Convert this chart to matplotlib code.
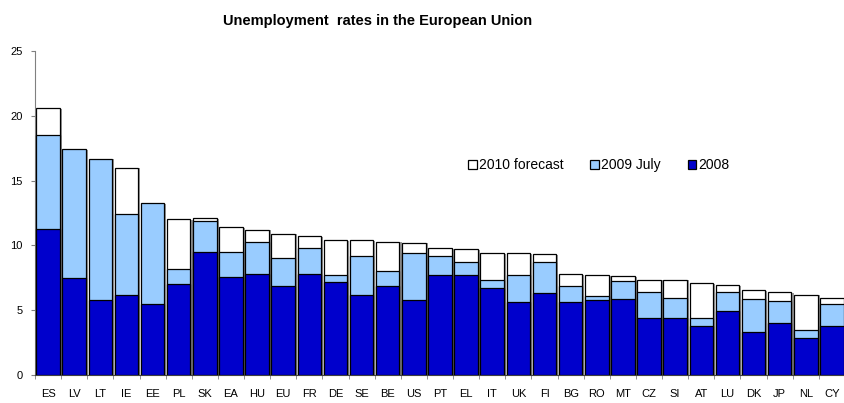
import numpy as np
import matplotlib.pyplot as plt

plt.rcParams['font.family'] = ['Liberation Sans', 'DejaVu Sans']

countries = ["ES", "LV", "LT", "IE", "EE", "PL", "SK", "EA", "HU", "EU", "FR", "DE", "SE", "BE", "US",
             "PT", "EL", "IT", "UK", "FI", "BG", "RO", "MT", "CZ", "SI", "AT", "LU", "DK", "JP", "NL", "CY"]
forecast_2010 = [20.6, np.nan, np.nan, 16.0, np.nan, 12.0, 12.1, 11.4, 11.2, 10.9, 10.7, 10.4, 10.4, 10.3, 10.2,
                 9.8, 9.7, 9.4, 9.4, 9.3, 7.8, 7.7, 7.65, 7.35, 7.35, 7.1, 6.95, 6.55, 6.4, 6.2, 5.95]
july_2009 = [18.5, 17.4, 16.7, 12.45, 13.25, 8.2, 11.9, 9.5, 10.3, 9.0, 9.8, 7.7, 9.2, 8.0, 9.4,
             9.2, 8.75, 7.35, 7.7, 8.7, 6.9, 6.1, 7.25, 6.4, 5.95, 4.4, 6.4, 5.9, 5.7, 3.45, 5.5]
year_2008 = [11.3, 7.5, 5.8, 6.2, 5.45, 7.0, 9.5, 7.55, 7.8, 6.9, 7.8, 7.2, 6.15, 6.9, 5.75,
             7.7, 7.7, 6.75, 5.6, 6.35, 5.6, 5.8, 5.9, 4.4, 4.4, 3.8, 4.9, 3.3, 4.0, 2.85, 3.8]

x = np.arange(len(countries))
w = 0.9
tops = np.nanmax(np.vstack([forecast_2010, july_2009, year_2008]), axis=0)

fig = plt.figure(figsize=(8.45, 4.03), dpi=100)
ax = fig.add_axes([35 / 845, 28 / 403, 810 / 845, 324 / 403])

# drop shadow on the right of each column
ax.bar(x + 0.08, tops - 0.05, width=w, color="#9a9a9a", linewidth=0, zorder=1)
ax.bar(x, forecast_2010, width=w, color="white", edgecolor="black", linewidth=0.9,
       label="2010 forecast", zorder=2)
ax.bar(x, july_2009, width=w, color="#99ccff", edgecolor="black", linewidth=0.9,
       label="2009 July", zorder=3)
ax.bar(x, year_2008, width=w, color="#0000cc", edgecolor="black", linewidth=0.9,
       label="2008", zorder=4)

ax.set_xlim(-0.47, len(countries) - 0.57)
ax.set_ylim(0, 25)
ax.set_yticks([0, 5, 10, 15, 20, 25])
ax.set_xticks(x)
ax.set_xticklabels(countries)
ax.set_xticks(np.arange(-0.5, len(countries), 1), minor=True)
ax.tick_params(axis="x", which="major", length=0, labelsize=8, pad=10)
ax.tick_params(axis="x", which="minor", length=3, color="#808080")
ax.tick_params(axis="y", labelsize=8, length=3, color="#808080", pad=6)

for s in ["top", "right"]:
    ax.spines[s].set_visible(False)
ax.spines["left"].set_color("#808080")
ax.spines["bottom"].set_color("#404040")

fig.text(378 / 845, 1 - 21 / 403, "Unemployment  rates in the European Union",
         ha="center", va="center", fontsize=10.5, fontweight="bold")

ax.legend(loc="center", bbox_to_anchor=(599 / 845, 1 - 165 / 403), bbox_transform=fig.transFigure,
          ncol=3, frameon=False, fontsize=10, handlelength=0.6, handleheight=0.6,
          handletextpad=0.2, columnspacing=1.9)

fig.savefig("out.png", dpi=100)
